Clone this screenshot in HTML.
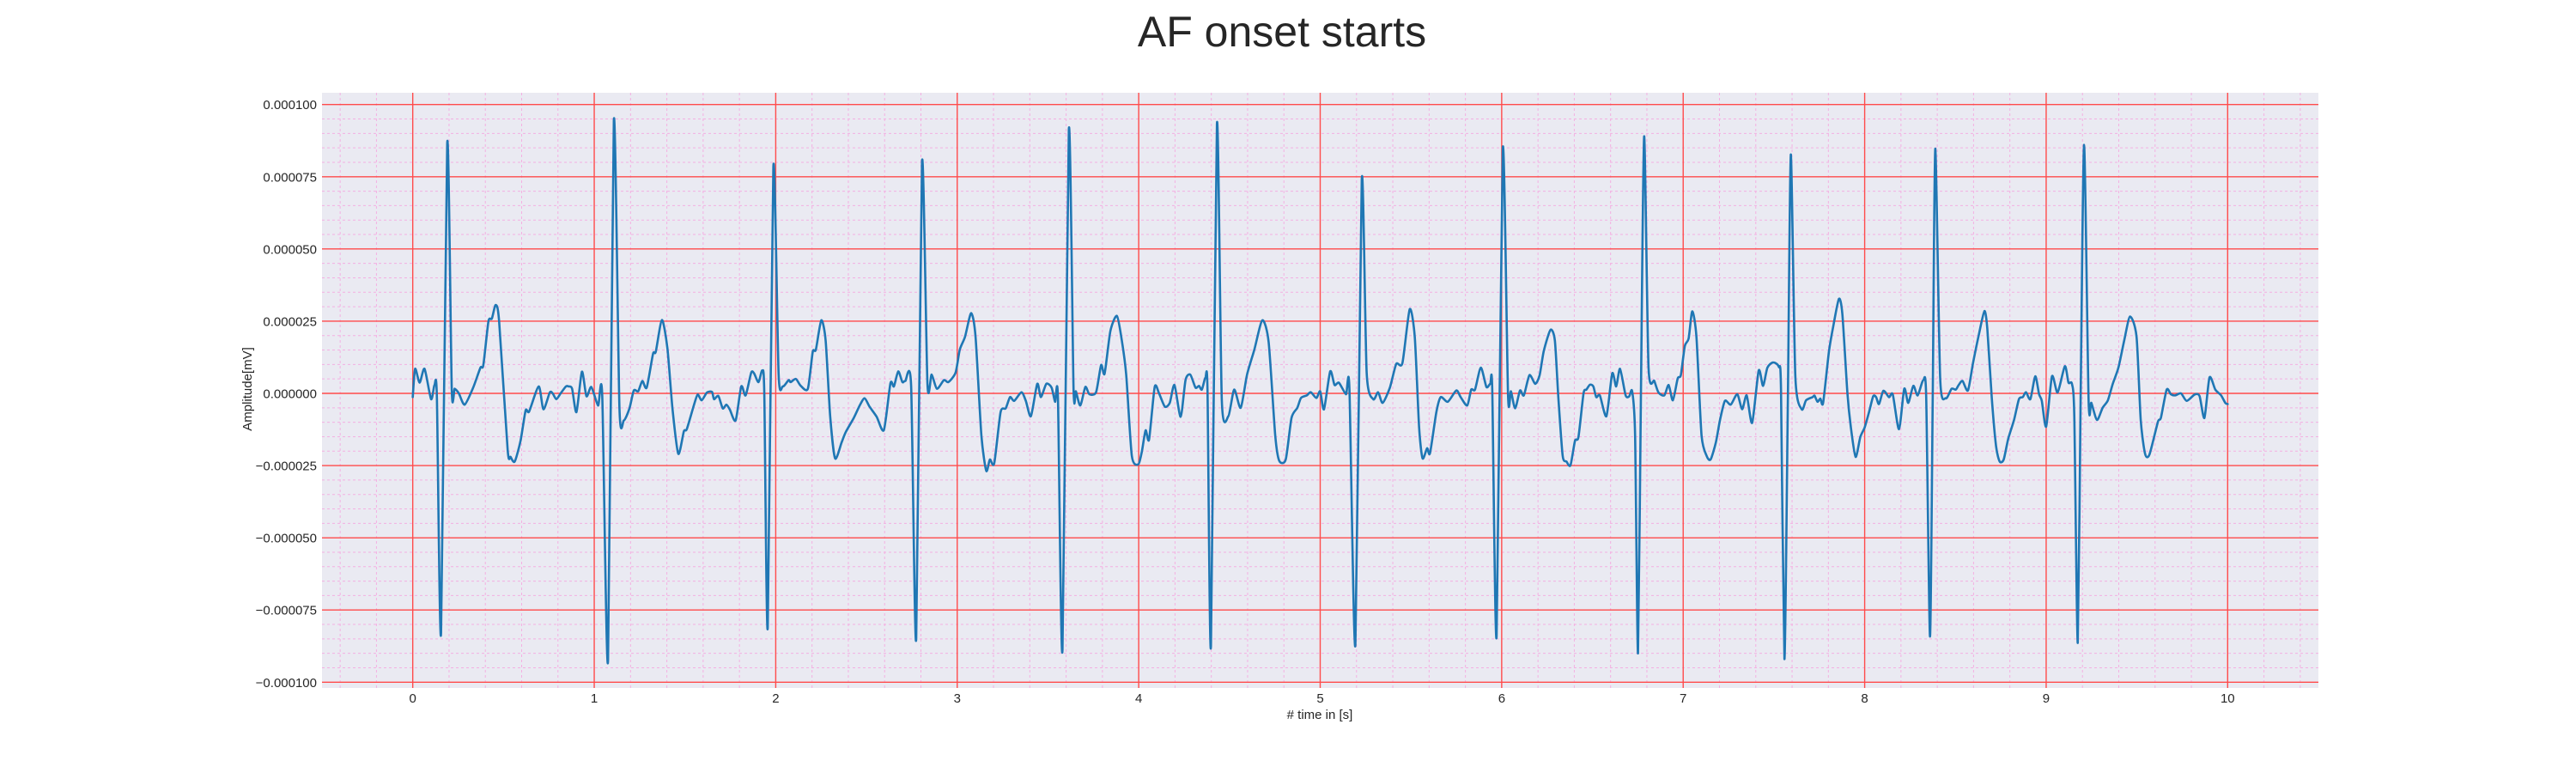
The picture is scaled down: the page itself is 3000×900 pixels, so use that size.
<!DOCTYPE html>
<html><head><meta charset="utf-8"><style>
html,body{margin:0;padding:0;background:#fff;}
svg{display:block;font-family:"Liberation Sans",Arial,sans-serif;}
</style></head><body>
<svg id="chart" width="3000" height="900" viewBox="0 0 3000 900" xmlns="http://www.w3.org/2000/svg">
<rect width="3000" height="900" fill="#ffffff"/>
<text x="1493" y="54" font-size="50" fill="#262626" text-anchor="middle">AF onset starts</text>
<rect x="375" y="108" width="2325" height="693" fill="#eaeaf2"/>
<g id="grid"></g>
<g id="series"></g>
<g id="ticks"></g>
<text x="0" y="0" font-size="15" fill="#262626" text-anchor="middle" transform="translate(293,453) rotate(-90)">Amplitude[mV]</text>
<text x="1537" y="837" font-size="15" fill="#262626" text-anchor="middle"># time in [s]</text>
</svg>
<script>
const times = [0.0,0.013,0.038,0.065,0.101,0.120,0.133,0.156,0.190,0.215,0.231,0.254,0.286,0.333,0.373,0.389,0.417,0.436,0.457,0.476,0.523,0.539,0.562,0.594,0.622,0.641,0.694,0.720,0.755,0.771,0.791,0.815,0.844,0.859,0.878,0.902,0.932,0.957,0.984,1.021,1.044,1.076,1.108,1.139,1.163,1.194,1.218,1.242,1.265,1.289,1.324,1.339,1.373,1.403,1.431,1.463,1.494,1.510,1.550,1.570,1.592,1.621,1.649,1.660,1.684,1.708,1.728,1.747,1.779,1.810,1.834,1.865,1.881,1.905,1.926,1.937,1.956,1.987,2.016,2.039,2.071,2.082,2.111,2.138,2.177,2.204,2.221,2.251,2.275,2.300,2.327,2.363,2.385,2.430,2.465,2.490,2.517,2.556,2.596,2.632,2.651,2.675,2.698,2.714,2.746,2.774,2.806,2.836,2.859,2.888,2.927,2.951,2.991,3.014,3.043,3.077,3.101,3.133,3.160,3.180,3.204,3.239,3.267,3.291,3.314,3.354,3.378,3.406,3.441,3.461,3.491,3.520,3.539,3.555,3.580,3.615,3.641,3.654,3.678,3.706,3.728,3.765,3.793,3.812,3.844,3.880,3.907,3.931,3.962,3.997,4.017,4.038,4.057,4.088,4.112,4.144,4.171,4.197,4.231,4.258,4.284,4.313,4.332,4.348,4.368,4.379,4.398,4.431,4.458,4.494,4.526,4.562,4.597,4.637,4.681,4.716,4.752,4.774,4.810,4.842,4.874,4.894,4.926,4.948,4.979,5.0,5.021,5.055,5.079,5.103,5.142,5.161,5.194,5.229,5.256,5.292,5.319,5.344,5.384,5.419,5.453,5.493,5.521,5.545,5.564,5.589,5.605,5.640,5.664,5.703,5.750,5.774,5.810,5.832,5.853,5.885,5.916,5.937,5.948,5.972,6.006,6.035,6.051,6.074,6.101,6.122,6.153,6.185,6.209,6.232,6.269,6.293,6.312,6.336,6.357,6.379,6.404,6.423,6.451,6.467,6.486,6.505,6.521,6.541,6.577,6.609,6.631,6.652,6.683,6.703,6.719,6.735,6.751,6.767,6.785,6.809,6.841,6.864,6.896,6.920,6.943,6.970,6.987,7.009,7.030,7.050,7.073,7.101,7.129,7.151,7.180,7.203,7.230,7.262,7.298,7.325,7.350,7.380,7.416,7.440,7.464,7.495,7.527,7.539,7.558,7.577,7.593,7.618,7.653,7.677,7.713,7.724,7.740,7.756,7.771,7.803,7.826,7.858,7.877,7.905,7.924,7.950,7.976,8.000,8.024,8.047,8.063,8.079,8.103,8.134,8.155,8.189,8.218,8.240,8.268,8.292,8.323,8.339,8.360,8.375,8.389,8.416,8.447,8.479,8.502,8.518,8.539,8.569,8.597,8.629,8.660,8.676,8.700,8.724,8.744,8.766,8.791,8.823,8.850,8.871,8.889,8.913,8.940,8.961,8.976,9.0,9.032,9.063,9.103,9.123,9.142,9.155,9.174,9.190,9.209,9.234,9.249,9.280,9.311,9.340,9.367,9.398,9.430,9.462,9.498,9.521,9.545,9.569,9.616,9.632,9.664,9.687,9.711,9.743,9.774,9.818,9.845,9.872,9.900,9.932,9.964,9.987,10.0];
const microVolts = [-1.3,8.5,3.7,8.5,-2,2.9,-1.3,-83,86.6,1.3,1.6,0,-3.9,2,8.9,9.8,24.9,25.9,30.6,24.9,-19.6,-22,-23.6,-16.4,-5.9,-6.3,2.4,-5.5,0.3,0,-2,0,2.4,2.4,1.6,-6.5,7.5,-1,2.2,-4.2,-0.7,-92.5,94.5,-5.2,-9.4,-5.2,1,0.7,4.3,2,13.7,14.4,25.4,15.7,-5.2,-20.9,-13.1,-12.4,-3.9,-0.4,-2.4,0.3,0.5,-2,-0.9,-5.2,-3.9,-5.6,-9.4,2.4,-0.7,7.2,6.9,3.9,7.9,0,-80.9,78.5,6.5,2.4,4.6,3.9,5,2.6,1.6,14.4,15.1,25.3,18.3,-7.9,-22.5,-17,-13.5,-8.5,-3.9,-1.7,-4.6,-8.1,-12.7,3.5,2.4,7.6,3.9,4.3,2.6,-85,80,3.3,6.5,1.6,4.6,3.9,7.2,15.1,19.6,27.8,19.6,-14.4,-26.8,-22.9,-24.2,-6.5,-5.2,-1.3,-2.6,0.4,-2.6,-7.9,3.3,-1.3,3.3,2,-2.9,-1.7,-88.8,91.2,1.3,0.7,-4.2,2.2,-0.3,0.4,9.8,6.8,21.6,26.8,18.3,6.5,-21.6,-24.6,-20.3,-12.8,-16,2.2,0,-4.6,-3.3,2.9,-8.1,4.6,6.5,2,2.6,1.3,5.5,1.3,-87.4,93.2,-2.6,-7.9,1.3,-5,6.5,15.1,25.3,17.7,-14.4,-23.3,-22.9,-8.5,-5,-1.6,-0.7,0.4,-1.6,0.7,-5.5,7.6,2.9,3.7,-0.3,1.6,-87,74,7.2,-2,0.4,-3.3,2,10.2,10.5,29.1,19.6,-11.8,-22.5,-19,-20.7,-6.5,-1.3,-2.9,1,-1.3,-4.2,1.3,1.3,8.9,2.2,3.3,1.3,-84,84.7,-0.7,0.7,-5.2,1,-0.7,6.3,3.3,6.3,14.7,22,18.3,-1.3,-21.6,-23.6,-24.9,-16.4,-15.1,0,1.3,3,2.4,-1.3,-0.7,-7.9,6.9,2.4,8.5,-0.7,-1,0.7,-14.4,-90,-1.3,89,9.2,4.3,0.3,-0.7,2.9,-2.4,5.2,6.3,16.4,19,28.4,19.6,-14.4,-21.6,-22.9,-17,-9.2,-2.6,-3.9,-0.3,-5.5,-0.7,-10.2,7.9,2.6,8.9,10.7,9.2,1.3,-92,-1.3,82.7,5.9,-5.5,-2.4,-1.3,-0.8,-2.9,-1.8,-3.3,14.4,22.9,32.7,27.5,0,-11.8,-22,-15.1,-11.8,-6.5,-1,-1.3,-3.7,0.9,-1.3,-0.4,-12.4,1.6,-3.3,2.6,-0.7,4.6,-1.3,-84.2,-1.3,84.7,5.2,-1.7,1.6,1.3,2.9,4.3,1,10.5,20.3,28.5,22.2,-1.3,-18.3,-23.6,-22.9,-15.7,-9.2,-2,-1.3,0.4,-2,5.9,-0.3,-2.6,-11.5,5.9,0.3,9.4,3.7,3.3,-7.9,-86.4,-1.3,86,-2.9,-3.3,-9.2,-5,-2.4,3.3,8.9,18.3,26.6,19.6,-9.2,-20.9,-21.2,-9.8,-8.5,1.3,-0.3,-0.7,0,-2.6,-0.4,-0.9,-8.5,5.5,1.3,-0.7,-3.3,-3.7];
const valueScale = 1e-6;
const xTickValues = [0,1,2,3,4,5,6,7,8,9,10];
const xTickLabels = ["0","1","2","3","4","5","6","7","8","9","10"];
const yTickValues = [-0.0001,-0.000075,-0.00005,-0.000025,0,0.000025,0.00005,0.000075,0.0001];
const yTickLabels = ["\u22120.000100","\u22120.000075","\u22120.000050","\u22120.000025","0.000000","0.000025","0.000050","0.000075","0.000100"];

const NS = "http://www.w3.org/2000/svg";
const L = 375, R = 2700, T = 108, B = 801;
const xMin = -0.5, xMax = 10.5;
const yZeroPx = 458, yPxPerUnit = 336.3 / 0.0001;
function xs(t){ return L + (t - xMin) / (xMax - xMin) * (R - L); }
function ys(v){ return yZeroPx - v * yPxPerUnit; }
function mk(tag, attrs, parent){
  const e = document.createElementNS(NS, tag);
  for (const k in attrs) e.setAttribute(k, attrs[k]);
  parent.appendChild(e);
  return e;
}
const grid = document.getElementById('grid');
const ticks = document.getElementById('ticks');
const series = document.getElementById('series');

for (let i = -2; i <= 52; i++) {
  const t = i * 0.2;
  if (Math.abs(t - Math.round(t)) < 1e-6) continue;
  const x = xs(t);
  if (x < L || x > R) continue;
  const ln = mk('line', {x1:x, x2:x, y1:T, y2:B, stroke:'#f4b0e2', 'stroke-width':1, 'stroke-dasharray':'3,3'}, grid);
  
  
}
for (let i = -21; i <= 21; i++) {
  if (i % 5 === 0) continue;
  const y = ys(i * 0.000005);
  if (y < T || y > B) continue;
  const ln = mk('line', {x1:L, x2:R, y1:y, y2:y, stroke:'#f4b0e2', 'stroke-width':1, 'stroke-dasharray':'3,3'}, grid);
  
  
}
xTickValues.forEach((v, i) => {
  const x = xs(v);
  const ln = mk('line', {x1:x, x2:x, y1:T, y2:B, stroke:'#ff4b4b', 'stroke-width':1.4}, grid);
  
  
  const tx = mk('text', {x:x, y:818, 'font-size':15, fill:'#262626', 'text-anchor':'middle'}, ticks);
  tx.textContent = xTickLabels[i];
  
  
});
yTickValues.forEach((v, i) => {
  const y = ys(v);
  const ln = mk('line', {x1:L, x2:R, y1:y, y2:y, stroke:'#ff4b4b', 'stroke-width':1.4}, grid);
  
  
  const tx = mk('text', {x:369, y:y + 5.5, 'font-size':15, fill:'#262626', 'text-anchor':'end'}, ticks);
  tx.textContent = yTickLabels[i];
  
  
});
// smoothed series (Catmull-Rom, reduced tension)
const pts = times.map((t, i) => [xs(t), ys(microVolts[i] * valueScale)]);
const k = 0.12;
let d = 'M' + pts[0][0].toFixed(2) + ',' + pts[0][1].toFixed(2);
for (let i = 0; i < pts.length - 1; i++) {
  const p0 = pts[Math.max(0, i - 1)], p1 = pts[i], p2 = pts[i + 1], p3 = pts[Math.min(pts.length - 1, i + 2)];
  const c1x = p1[0] + (p2[0] - p0[0]) * k, c1y = p1[1] + (p2[1] - p0[1]) * k;
  const c2x = p2[0] - (p3[0] - p1[0]) * k, c2y = p2[1] - (p3[1] - p1[1]) * k;
  d += 'C' + c1x.toFixed(2) + ',' + c1y.toFixed(2) + ' ' + c2x.toFixed(2) + ',' + c2y.toFixed(2) + ' ' + p2[0].toFixed(2) + ',' + p2[1].toFixed(2);
}
const path = mk('path', {d:d, fill:'none', stroke:'#1f77b4', 'stroke-width':2.6, 'stroke-linejoin':'round', 'stroke-linecap':'round'}, series);


</script>
</body></html>
